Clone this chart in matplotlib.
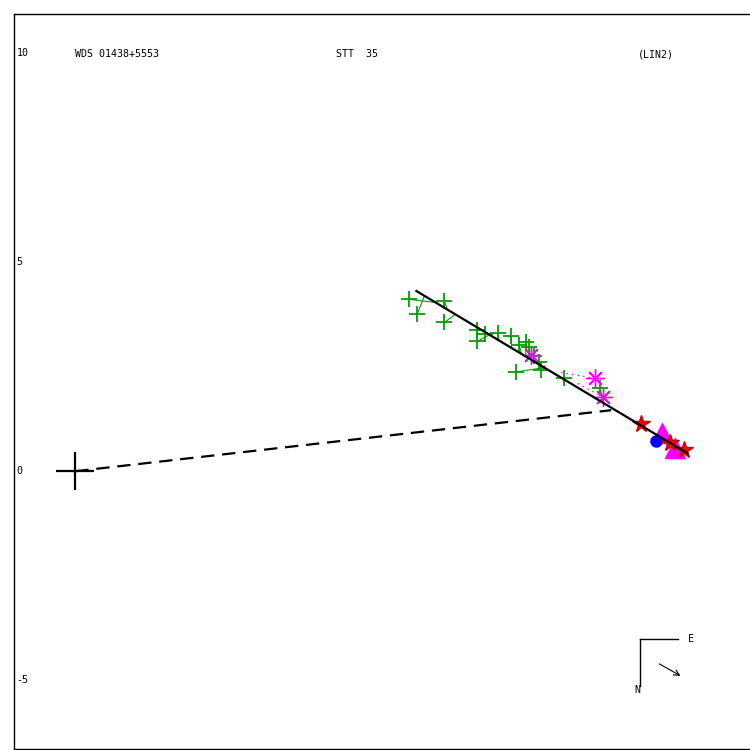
import matplotlib
matplotlib.use('Agg')
import matplotlib.pyplot as plt

# observations (green +) and where each residual meets the fitted line
obs_x = [7.99, 8.18, 8.83, 8.83, 9.62, 9.62, 9.81, 10.10, 10.43, 10.62, 10.79, 10.86, 10.98, 11.10, 10.53, 11.15, 11.70, 12.56]
obs_y = [4.11, 3.76, 4.07, 3.56, 3.11, 3.37, 3.28, 3.30, 3.23, 3.01, 3.09, 2.97, 2.75, 2.61, 2.37, 2.42, 2.22, 1.99]
obs_ex = [8.66, 8.35, 8.90, 9.09, 9.90, 9.71, 9.86, 10.14, 10.43, 10.67, 10.77, 10.86, 11.00, 11.10, 11.22, 11.22, 11.65, 12.61]
obs_ey = [4.03, 4.19, 3.86, 3.75, 3.26, 3.38, 3.29, 3.12, 2.95, 2.81, 2.75, 2.69, 2.61, 2.55, 2.48, 2.48, 2.22, 1.65]

# magenta asterisks with dotted residuals
ast_x = [10.91, 12.44, 12.63]
ast_y = [2.78, 2.22, 1.77]
ast_ex = [11.29, 11.58, 11.99]
ast_ey = [2.46, 2.37, 2.11]

star_x = [13.52, 14.23, 14.57]
star_y = [1.12, 0.67, 0.50]
tri_x = [14.04, 14.35]
tri_y = [0.91, 0.55]
dot_x = [13.90]
dot_y = [0.72]

fit_x = [8.16, 14.64]
fit_y = [4.31, 0.43]
node_x = [0.0, 12.82]
node_y = [0.0, 1.46]

tick_vals = [10, 5, 0, -5]

fig = plt.figure(figsize=(7.5, 7.5), dpi=100)
ax = fig.add_axes([0.019, 0.001, 0.99, 0.98])
ax.set_xlim(-1.46, 16.30)
ax.set_ylim(-6.65, 10.93)
ax.set_xticks([])
ax.set_yticks([])
for s in ax.spines.values():
    s.set_linewidth(1.0)

font = dict(family='DejaVu Sans Mono', fontsize=7.2)

# residual lines
for x0, y0, x1, y1 in zip(obs_x, obs_y, obs_ex, obs_ey):
    ax.plot([x0, x1], [y0, y1], color='#00a000', lw=0.8)
for x0, y0, x1, y1 in zip(ast_x, ast_y, ast_ex, ast_ey):
    ax.plot([x0, x1], [y0, y1], color='magenta', lw=1.0, linestyle=(0, (1, 3)))

ax.plot(obs_x, obs_y, '+', color='#00a000', ms=12, mew=1.3)
ax.plot(ast_x, ast_y, marker=(8, 2, 0), ls='none', color='magenta', ms=13, mew=1.0)

ax.plot(tri_x, tri_y, '^', color='magenta', ms=15)
ax.plot(dot_x, dot_y, 'o', color='blue', ms=8)
ax.plot(star_x, star_y, '*', color='red', ms=13, mec='#cc0000')

# fitted line and line of nodes on top
ax.plot(fit_x, fit_y, color='black', lw=1.6)
ax.plot(node_x, node_y, color='black', lw=1.6, dashes=(6, 3.5))

ax.plot([0], [0], '+', color='black', ms=27, mew=1.6)

# labels
for v in tick_vals:
    ax.text(-1.40, v, str(v), ha='left', va='center', **font)
ax.text(0.0818, 0.9456, 'WDS 01438+5553', transform=ax.transAxes, ha='left', va='center', **font)
ax.text(0.433, 0.9456, 'STT  35', transform=ax.transAxes, ha='left', va='center', **font)
ax.text(0.840, 0.9456, '(LIN2)', transform=ax.transAxes, ha='left', va='center', **font)

# orientation marker
ax.plot([0.843, 0.894], [0.150, 0.150], color='black', lw=1.0, transform=ax.transAxes)
ax.plot([0.843, 0.843], [0.150, 0.0857], color='black', lw=1.0, transform=ax.transAxes)
ax.annotate('', xy=(0.9006, 0.098), xytext=(0.8656, 0.118), xycoords='axes fraction',
            arrowprops=dict(arrowstyle='->', color='black', lw=0.8))
ax.text(0.9074, 0.150, 'E', transform=ax.transAxes, ha='left', va='center', **font)
ax.text(0.8387, 0.080, 'N', transform=ax.transAxes, ha='center', va='center', **font)

fig.savefig('out.png', dpi=100)
